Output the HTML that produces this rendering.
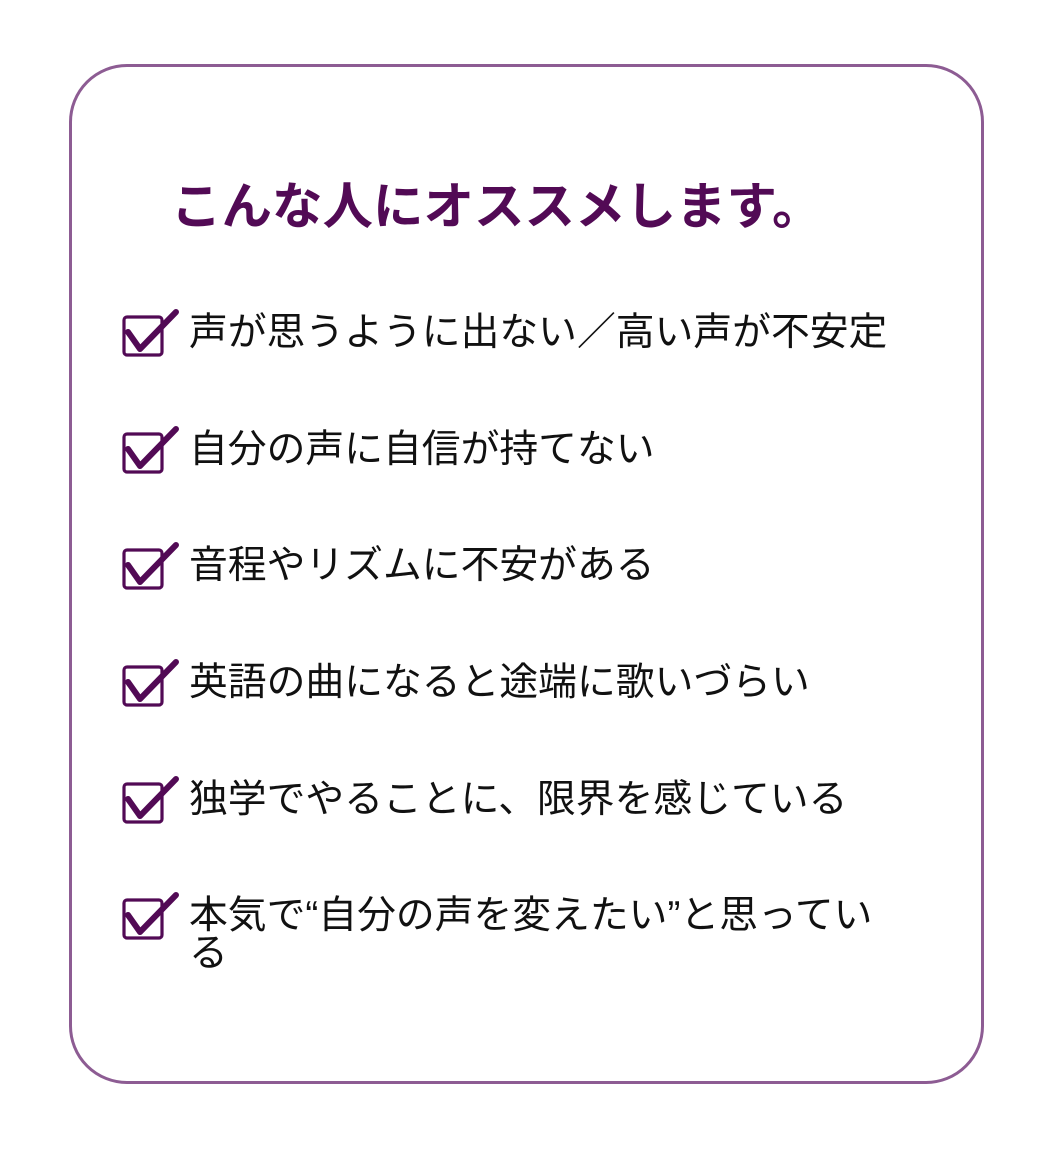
<!DOCTYPE html>
<html><head><meta charset="utf-8"><style>
body{margin:0;width:1040px;height:1152px;background:#fff;position:relative;overflow:hidden;font-family:"Liberation Sans","Noto Sans CJK JP",sans-serif;}
.frame{position:absolute;left:69px;top:64px;width:909px;height:1014px;border:3.5px solid #8d5c93;border-radius:58px;}
.title{position:absolute;left:171px;top:177px;font-size:50.5px;font-weight:bold;color:#520a55;white-space:nowrap;line-height:60px;}
.row{position:absolute;left:189px;font-size:38.8px;color:#111;white-space:nowrap;line-height:40px;}
svg.cb{position:absolute;left:120px;width:60px;height:50px;}
</style></head><body>
<div class="frame"></div>
<div class="title">こんな人にオススメします。</div>

<svg class="cb" style="top:308px" viewBox="0 0 60 50"><rect x="4" y="9" width="38" height="38" rx="3" fill="none" stroke="#520a55" stroke-width="3.2"/><path d="M8 24 L20 41 L56 4" fill="none" stroke="#520a55" stroke-width="6" stroke-linecap="round" stroke-linejoin="round"/></svg>
<div class="row" style="top:313px">声が思うように出ない／高い声が不安定</div>

<svg class="cb" style="top:425px" viewBox="0 0 60 50"><rect x="4" y="9" width="38" height="38" rx="3" fill="none" stroke="#520a55" stroke-width="3.2"/><path d="M8 24 L20 41 L56 4" fill="none" stroke="#520a55" stroke-width="6" stroke-linecap="round" stroke-linejoin="round"/></svg>
<div class="row" style="top:430px">自分の声に自信が持てない</div>

<svg class="cb" style="top:541px" viewBox="0 0 60 50"><rect x="4" y="9" width="38" height="38" rx="3" fill="none" stroke="#520a55" stroke-width="3.2"/><path d="M8 24 L20 41 L56 4" fill="none" stroke="#520a55" stroke-width="6" stroke-linecap="round" stroke-linejoin="round"/></svg>
<div class="row" style="top:546px">音程やリズムに不安がある</div>

<svg class="cb" style="top:658px" viewBox="0 0 60 50"><rect x="4" y="9" width="38" height="38" rx="3" fill="none" stroke="#520a55" stroke-width="3.2"/><path d="M8 24 L20 41 L56 4" fill="none" stroke="#520a55" stroke-width="6" stroke-linecap="round" stroke-linejoin="round"/></svg>
<div class="row" style="top:663px">英語の曲になると途端に歌いづらい</div>

<svg class="cb" style="top:775px" viewBox="0 0 60 50"><rect x="4" y="9" width="38" height="38" rx="3" fill="none" stroke="#520a55" stroke-width="3.2"/><path d="M8 24 L20 41 L56 4" fill="none" stroke="#520a55" stroke-width="6" stroke-linecap="round" stroke-linejoin="round"/></svg>
<div class="row" style="top:780px">独学でやることに、限界を感じている</div>

<svg class="cb" style="top:891px" viewBox="0 0 60 50"><rect x="4" y="9" width="38" height="38" rx="3" fill="none" stroke="#520a55" stroke-width="3.2"/><path d="M8 24 L20 41 L56 4" fill="none" stroke="#520a55" stroke-width="6" stroke-linecap="round" stroke-linejoin="round"/></svg>
<div class="row" style="top:897px;line-height:38px">本気で“自分の声を変えたい”と思ってい<br>る</div>
</body></html>
